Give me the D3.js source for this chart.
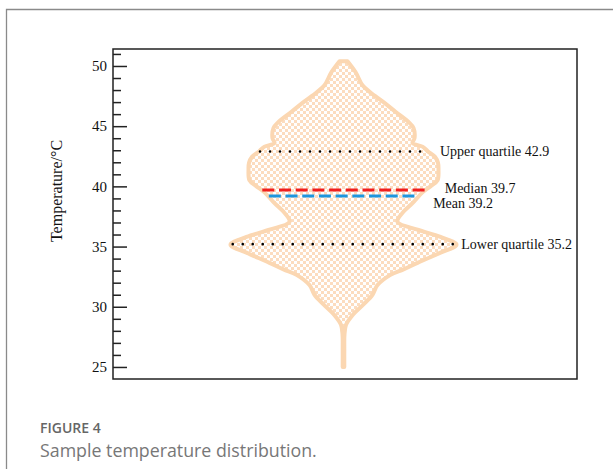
<!DOCTYPE html>
<html>
<head>
<meta charset="utf-8">
<script src="https://cdn.jsdelivr.net/npm/d3@7"></script>
<style>
  body { margin: 0; background: #fff; }
  svg { display: block; }
</style>
</head>
<body>
<div id="chart"></div>
<script>
// violin profile: temperature (°C) and kernel density (x100)
var temps   = [50.4, 49.5, 48.4, 47.8, 47.0, 46.2, 45.35, 44.85, 44.0, 43.6, 43.3, 42.9, 42.45, 41.95, 41.4, 40.5, 40.0, 39.5, 38.6, 37.8, 37.05, 36.4, 35.8, 35.15, 34.5, 33.65, 33.1, 32.65, 31.8, 31.0, 30.2, 29.3, 28.5, 27.7, 26.5, 25.0];
var density = [0.4, 1.2, 1.9, 2.7, 4.0, 5.2, 6.5, 7.0, 7.1, 6.9, 7.9, 8.45, 9.15, 9.45, 9.5, 9.4, 8.7, 7.9, 6.9, 5.9, 5.4, 7.4, 9.7, 11.3, 9.7, 7.4, 6.0, 4.7, 3.4, 2.9, 2.0, 0.9, 0.25, 0.1, 0.08, 0.08];

var statNames  = ['Upper quartile', 'Median', 'Mean', 'Lower quartile'];
var statValues = [42.9, 39.7, 39.2, 35.2];

var yMajor = [25, 30, 35, 40, 45, 50];
var yMinor = [26, 27, 28, 29, 31, 32, 33, 34, 36, 37, 38, 39, 41, 42, 43, 44, 46, 47, 48, 49, 51];

var width = 613, height = 469;
var box = { left: 113, top: 49, right: 577, bottom: 379 };
var cx = 343.5;
var serif = '"Liberation Serif", "Times New Roman", serif';

var svg = d3.select('#chart').append('svg')
  .attr('width', width)
  .attr('height', height);

svg.append('rect').attr('width', width).attr('height', height).attr('fill', '#fff');

// card frame (left and top edges visible)
svg.append('path')
  .attr('d', 'M6.5,' + (height + 5) + 'V9.5H' + (width + 5))
  .attr('fill', 'none')
  .attr('stroke', '#8a8a8a')
  .attr('stroke-width', 1.3);

var y = d3.scaleLinear().domain([24.0, 51.41]).range([box.bottom, box.top]);
var xd = d3.scaleLinear().domain([-12, 12]).range([cx - 120, cx + 120]);

// checker pattern fill
var defs = svg.append('defs');
var pat = defs.append('pattern')
  .attr('id', 'checker')
  .attr('patternUnits', 'userSpaceOnUse')
  .attr('width', 6).attr('height', 6);
pat.append('rect').attr('width', 6).attr('height', 6).attr('fill', '#fff');
pat.append('rect').attr('width', 3).attr('height', 3).attr('fill', '#fcdcbf');
pat.append('rect').attr('x', 3).attr('y', 3).attr('width', 3).attr('height', 3).attr('fill', '#fcdcbf');

var profile = temps.map(function(t, i) { return { t: t, d: density[i] }; });

var area = d3.area()
  .y(function(p) { return y(p.t); })
  .x0(function(p) { return xd(-p.d); })
  .x1(function(p) { return xd(p.d); })
  .curve(d3.curveCatmullRom.alpha(0.5));

svg.append('path')
  .datum(profile)
  .attr('d', area)
  .attr('fill', 'url(#checker)')
  .attr('stroke', '#fbd7b2')
  .attr('stroke-width', 4)
  .attr('stroke-linejoin', 'round');

// density at a temperature, linear between profile points
function densityAt(t) {
  for (var i = 0; i < temps.length - 1; i++) {
    if (t <= temps[i] && t >= temps[i + 1]) {
      var f = (temps[i] - t) / (temps[i] - temps[i + 1]);
      return density[i] + f * (density[i + 1] - density[i]);
    }
  }
  return 0;
}

var statStyle = [
  { stroke: '#000', width: 2.6, dash: '0,10', cap: 'round', dx: 13, dy: 4.5 },
  { stroke: '#f01e1e', width: 3, dash: '12,4.7', cap: 'butt', dx: 20, dy: 3.5 },
  { stroke: '#1e96de', width: 3, dash: '12,4.7', cap: 'butt', dx: 15, dy: 12 },
  { stroke: '#000', width: 2.6, dash: '0,10', cap: 'round', dx: 7, dy: 4.5 }
];

statValues.forEach(function(v, i) {
  var s = statStyle[i];
  var d = densityAt(v) - 0.1;
  svg.append('line')
    .attr('x1', xd(-d)).attr('x2', xd(d))
    .attr('y1', y(v)).attr('y2', y(v))
    .attr('stroke', s.stroke)
    .attr('stroke-width', s.width)
    .attr('stroke-dasharray', s.dash)
    .attr('stroke-linecap', s.cap);
  svg.append('text')
    .attr('x', xd(d) + s.dx)
    .attr('y', y(v) + s.dy)
    .attr('font-family', serif)
    .attr('font-size', '14px')
    .attr('fill', '#111')
    .text(statNames[i] + ' ' + v.toFixed(1));
});

// plot box
svg.append('rect')
  .attr('x', box.left).attr('y', box.top)
  .attr('width', box.right - box.left).attr('height', box.bottom - box.top)
  .attr('fill', 'none')
  .attr('stroke', '#222')
  .attr('stroke-width', 1.5);

var axis = svg.append('g').attr('transform', 'translate(' + box.left + ',0)');
axis.call(d3.axisLeft(y).tickValues(yMajor).tickSizeInner(-14).tickSizeOuter(0).tickPadding(6));
var minor = svg.append('g').attr('transform', 'translate(' + box.left + ',0)');
minor.call(d3.axisLeft(y).tickValues(yMinor).tickSizeInner(-8).tickSizeOuter(0).tickFormat(''));

svg.selectAll('.domain').remove();
svg.selectAll('.tick line').attr('stroke', '#222').attr('stroke-width', 1.5);
axis.selectAll('.tick text')
  .attr('font-family', serif)
  .attr('font-size', '15px')
  .attr('fill', '#111');

svg.append('text')
  .attr('transform', 'translate(62,' + 191 + ') rotate(-90)')
  .attr('text-anchor', 'middle')
  .attr('font-family', serif)
  .attr('font-size', '16px')
  .attr('fill', '#111')
  .text('Temperature/°C');

// caption
svg.append('text')
  .attr('x', 40).attr('y', 433)
  .attr('font-family', '"Open Sans", sans-serif')
  .attr('font-size', '14px')
  .attr('font-weight', 600)
  .attr('fill', '#666')
  .text('FIGURE 4');
svg.append('text')
  .attr('x', 40).attr('y', 457)
  .attr('font-family', '"Open Sans", sans-serif')
  .attr('font-size', '17.8px')
  .attr('fill', '#777')
  .text('Sample temperature distribution.');
</script>
</body>
</html>
